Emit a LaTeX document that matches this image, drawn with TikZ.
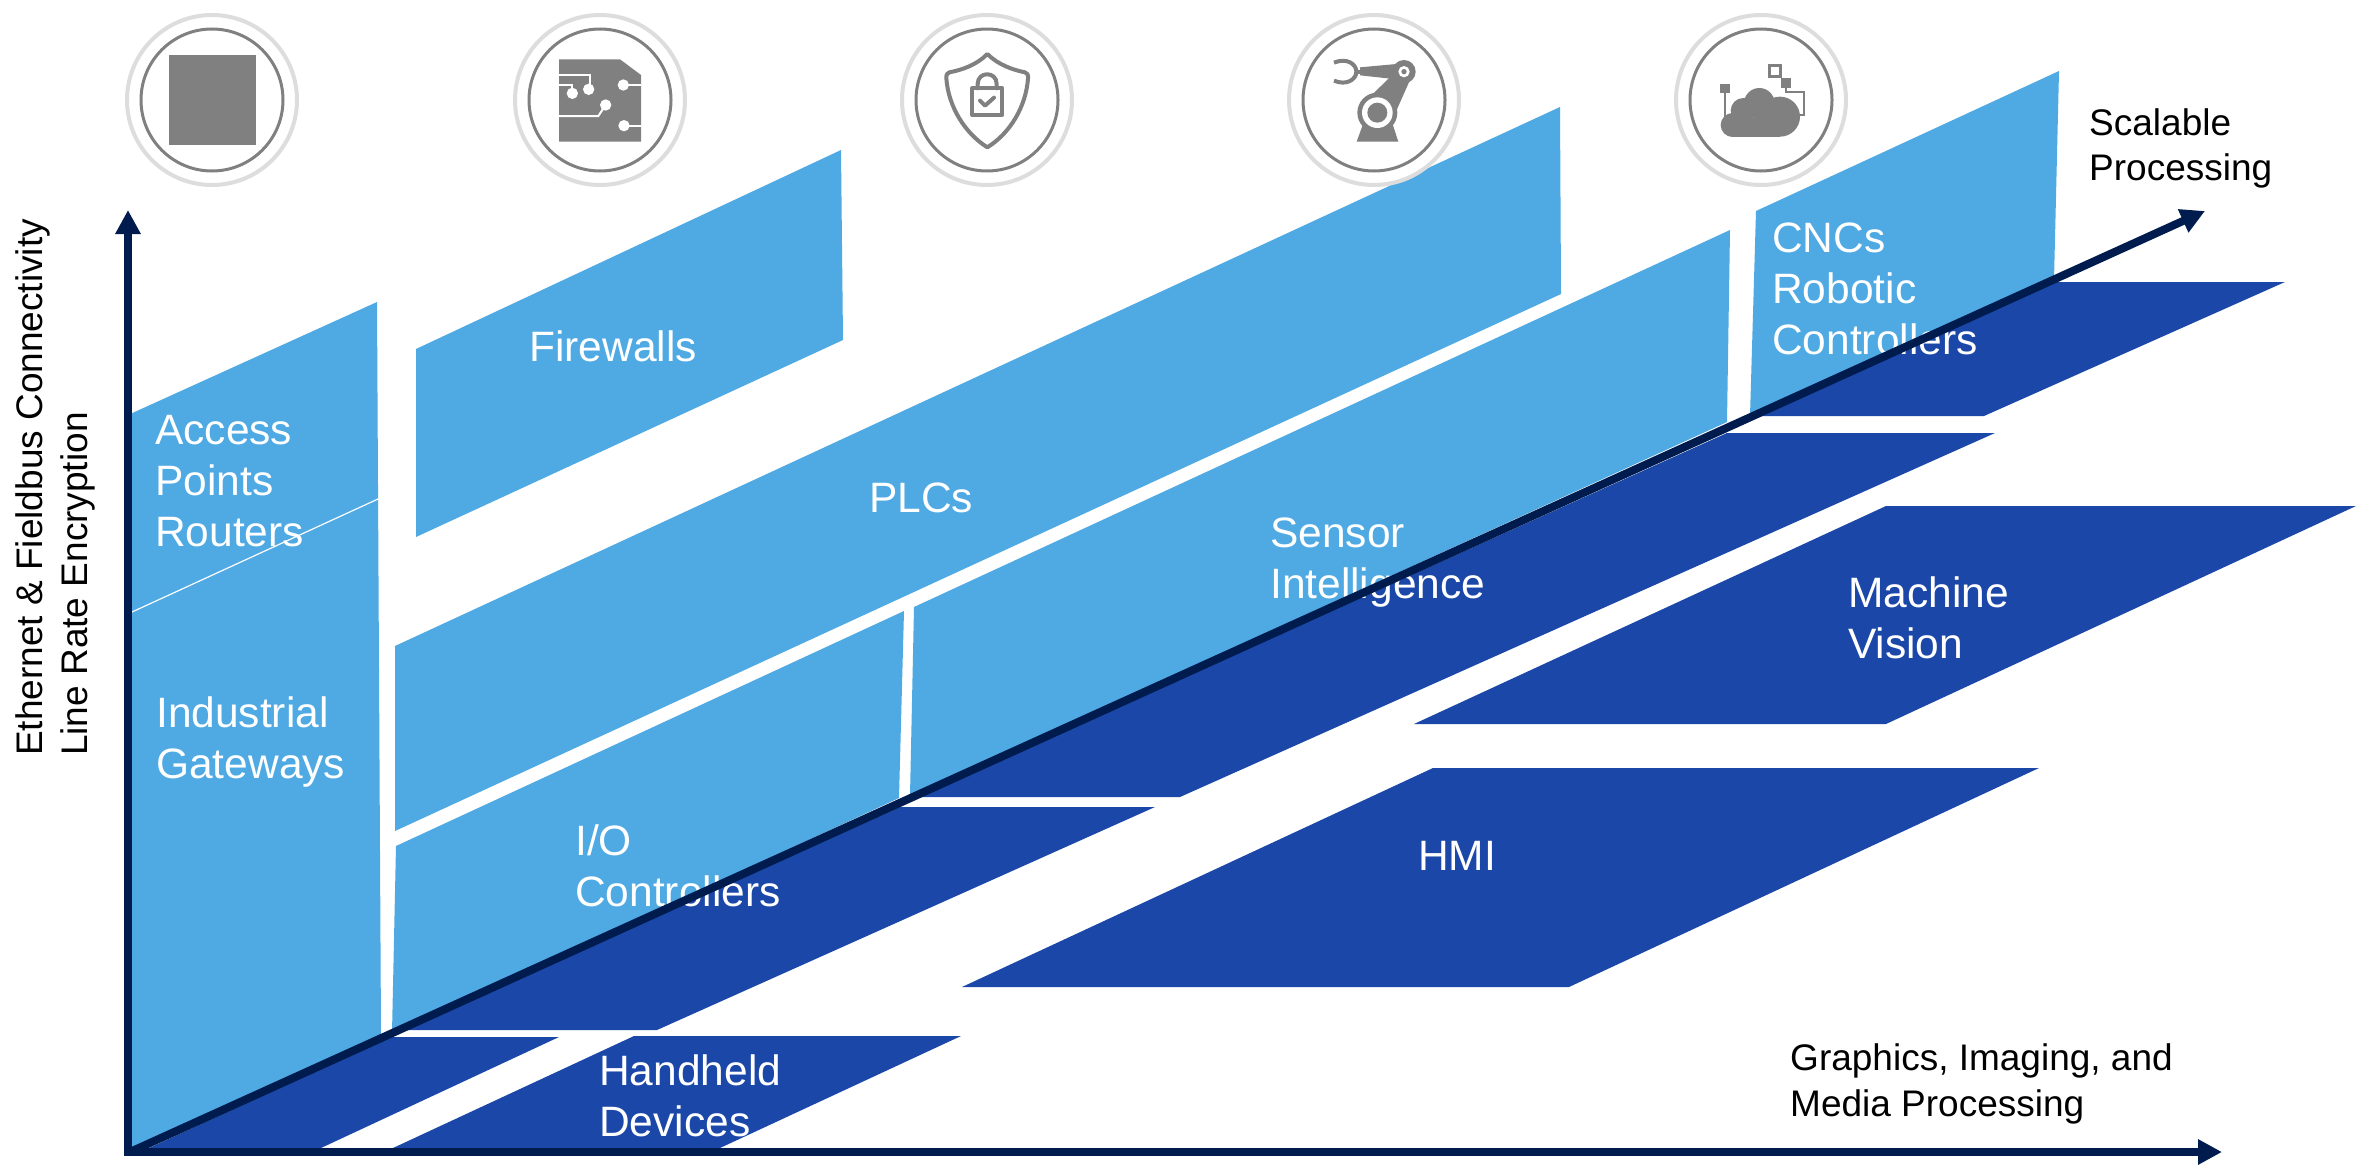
\documentclass[tikz,border=0pt]{standalone}
\usepackage{fontspec}
\setmainfont{Liberation Sans}
\usetikzlibrary{arrows.meta}
\definecolor{lightblue}{HTML}{4FA9E3}
\definecolor{deepblue}{HTML}{1B47A8}
\definecolor{axisnavy}{HTML}{001C4E}
\definecolor{icongrey}{HTML}{808080}
\definecolor{ringgrey}{HTML}{DDDDDD}
\tikzset{
  lightpanel/.style={fill=lightblue,draw=none},
  darkpanel/.style={fill=deepblue,draw=none},
  paneltext/.style={anchor=base west,inner sep=0pt,text=white,font=\fontsize{42.5}{51}\selectfont,align=left},
  axistext/.style={anchor=base west,inner sep=0pt,text=black,font=\fontsize{37}{45}\selectfont},
  axisline/.style={draw=axisnavy,line width=8pt,-{Triangle[length=24pt,width=24pt]}},
  outerring/.style={draw=ringgrey,line width=4pt,fill=white},
  innerring/.style={draw=icongrey,line width=3pt,fill=white},
  iconfill/.style={fill=icongrey,draw=none},
  iconwhite/.style={draw=white,line width=2pt,fill=none},
  iconstroke/.style={draw=icongrey,line width=4pt,fill=none,line join=round,line cap=round},
  iconthin/.style={draw=icongrey,line width=2pt,fill=none}
}
\begin{document}
\begin{tikzpicture}[x=1pt,y=-1pt]
\useasboundingbox (0,0) rectangle (2356,1167);
\fill[white] (0,0) rectangle (2356,1167);

% light panels
\fill[lightpanel] (128,415) -- (377,302) -- (381,1035) -- (128,1152) -- cycle;
\draw[white,line width=1.2pt] (132,612) -- (378,499);
\fill[lightpanel] (416,349) -- (841,150) -- (843,340) -- (416,537) -- cycle;
\fill[lightpanel] (395,646) -- (1560,107) -- (1561,294) -- (395,831) -- cycle;
\fill[lightpanel] (396,846) -- (904,611) -- (899,798) -- (392,1033) -- cycle;
\fill[lightpanel] (914,607) -- (1730,230) -- (1727,422) -- (910,796) -- cycle;
\fill[lightpanel] (1756,211) -- (2059,71) -- (2054,280) -- (1750,416) -- cycle;

% dark panels
\fill[darkpanel] (2054,282) -- (2285,282) -- (1984,416) -- (1762,416) -- cycle;
\fill[darkpanel] (1727,433) -- (1995,433) -- (1180,797) -- (918,797) -- cycle;
\fill[darkpanel] (900,807) -- (1155,807) -- (657,1030) -- (403,1030) -- cycle;
\fill[darkpanel] (390,1037) -- (559,1037) -- (321,1148) -- (149,1148) -- cycle;
\fill[darkpanel] (634,1036) -- (961,1036) -- (720,1148) -- (393,1148) -- cycle;
\fill[darkpanel] (1433,768) -- (2039,768) -- (1569,987) -- (962,987) -- cycle;
\fill[darkpanel] (1886,506) -- (2356,506) -- (1886,724) -- (1414,724) -- cycle;

% panel texts (the base anchor of a multi-line node is its last baseline)
\node[paneltext] (access) at (155,546) {Access\\Points\\Routers};
\node[paneltext] (gateways) at (156,778) {Industrial\\Gateways};
\node[paneltext] (firewalls) at (529,361) {Firewalls};
\node[paneltext] (plcs) at (869,512) {PLCs};
\node[paneltext] (sensor) at (1270,598) {Sensor\\Intelligence};
\node[paneltext] (io) at (575,906) {I/O\\Controllers};
\node[paneltext] (cncs) at (1772,354) {CNCs\\Robotic\\Controllers};
\node[paneltext] (vision) at (1848,658) {Machine\\Vision};
\node[paneltext] (hmi) at (1418,870) {HMI};
\node[paneltext] (handheld) at (599,1136) {Handheld\\Devices};

% axes
\coordinate (origin) at (130,1152);
\coordinate (ytip) at (128,210);
\coordinate (ybase) at (128,1156);
\coordinate (xbase) at (124,1152);
\coordinate (xtip) at (2222,1152);
\coordinate (ztip) at (2205,211);
\draw[axisline] (ybase) -- (ytip);
\draw[axisline] (xbase) -- (xtip);
\draw[axisline] (origin) -- (ztip);

% axis labels
\node[axistext,rotate=90] (ylabela) at (42,756) {Ethernet \& Fieldbus Connectivity};
\node[axistext,rotate=90] (ylabelb) at (87,756) {Line Rate Encryption};
\node[axistext] (scalea) at (2089,135) {Scalable};
\node[axistext] (scaleb) at (2089,180) {Processing};
\node[axistext] (grapha) at (1790,1070) {Graphics, Imaging, and};
\node[axistext] (graphb) at (1790,1116) {Media Processing};

% icon rings
\foreach \cx in {212,600,987,1374,1761}{
  \draw[outerring] (\cx,100) circle (85);
  \draw[innerring] (\cx,100) circle (71);
}

% chip icon
\fill[iconfill] (169,55) rectangle (256,145);

% board icon
\begin{scope}[shift={(540,40)},scale=1/3]
  \fill[iconfill] (57,58) -- (240,58) -- (303,105) -- (303,305) -- (57,305) -- cycle;
  \draw[iconwhite] (57,105) -- (150,105) -- (150,148);
  \draw[iconwhite] (57,135) -- (97,135) -- (97,160);
  \draw[iconwhite] (57,228) -- (175,228) -- (197,195);
  \draw[iconwhite] (250,135) -- (303,135);
  \draw[iconwhite] (252,257) -- (303,257);
  \fill[white] (146,148) circle (17) (97,160) circle (17) (197,195) circle (17)
    (250,135) circle (17) (252,257) circle (17);
\end{scope}

% shield icon
\begin{scope}[shift={(930,40)},scale=1/3]
  \draw[iconstroke] (172,42) .. controls (205,75) and (250,90) .. (285,97)
    .. controls (292,98) and (295,105) .. (294,115)
    .. controls (288,200) and (240,280) .. (172,322)
    .. controls (105,280) and (55,200) .. (49,115)
    .. controls (48,105) and (52,98) .. (58,97)
    .. controls (95,90) and (140,75) .. (172,42) -- cycle;
  \draw[iconstroke] (127,145) rectangle (217,225);
  \draw[iconstroke] (143,145) -- (143,132) .. controls (143,93) and (200,93) .. (200,132) -- (200,145);
  \draw[iconstroke] (150,182) -- (165,197) -- (192,173);
\end{scope}

% robot icon
\begin{scope}[shift={(1315,40)},scale=1/3]
  \fill[iconfill] (125,305) -- (250,305) -- (232,250) -- (145,250) -- cycle;
  \fill[iconfill] (165,170) -- (232,105) -- (285,120) -- (245,210) -- cycle;
  \fill[iconfill] (135,82) -- (245,72) -- (245,118) -- (135,106) -- cycle;
  \fill[iconfill] (187,218) circle (60);
  \fill[white] (187,218) circle (46);
  \fill[iconfill] (187,218) circle (30);
  \fill[iconfill] (267,95) circle (35);
  \fill[white] (267,95) circle (17);
  \fill[iconfill] (267,95) circle (8);
  \draw[iconstroke,line width=4pt,line cap=butt] (57,68) .. controls (95,52) and (124,72) .. (124,95)
    .. controls (124,118) and (95,138) .. (57,122);
  \draw[iconstroke,line width=4pt,line cap=butt] (122,95) -- (140,95);
\end{scope}

% cloud icon
\begin{scope}[shift={(1700,40)},scale=1/3]
  \fill[iconfill] (98,255) circle (36) (130,212) circle (38) (178,190) circle (46) (240,230) circle (60);
  \fill[iconfill] (98,235) rectangle (240,290);
  \fill[iconfill] (60,132) rectangle (90,160);
  \draw[iconthin] (75,160) -- (75,240);
  \draw[iconstroke,line width=3pt,line cap=butt,line join=miter] (209,76) rectangle (242,110);
  \fill[iconfill] (244,113) rectangle (274,143);
  \draw[iconthin] (258,143) -- (258,156) -- (312,156) -- (312,225) -- (295,225);
\end{scope}
\end{tikzpicture}
\end{document}
